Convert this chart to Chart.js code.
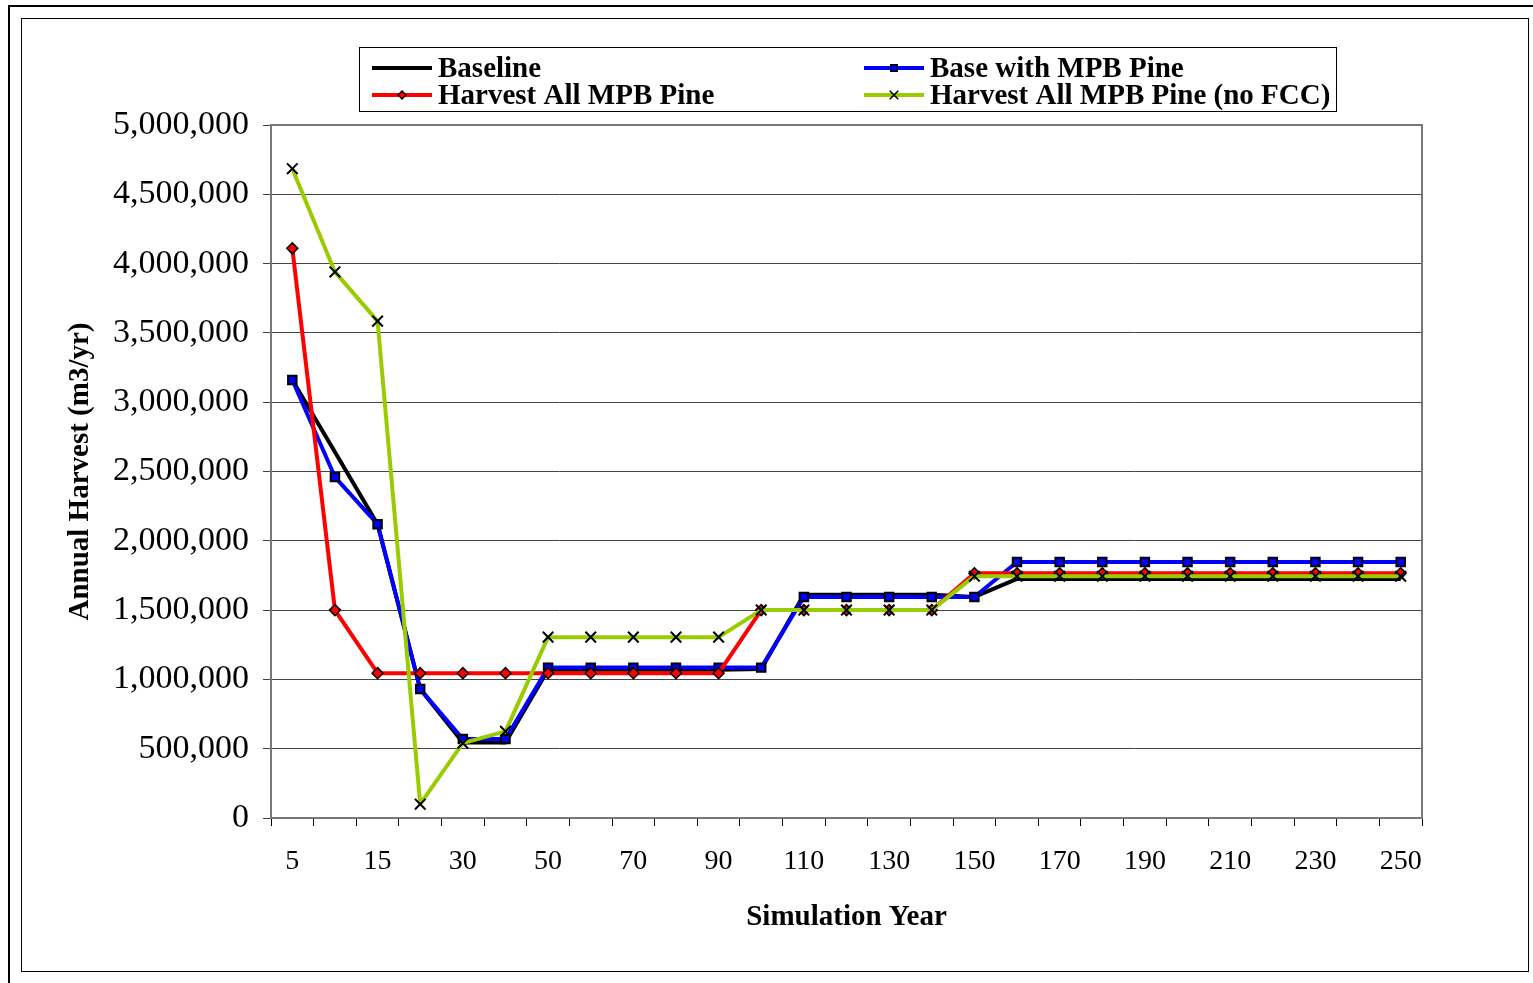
<!DOCTYPE html>
<html>
<head>
<meta charset="utf-8">
<title>Annual Harvest by Simulation Year</title>
<script src="https://cdn.jsdelivr.net/npm/chart.js@4.4.1/dist/chart.umd.min.js"></script>
<style>
    html, body { margin: 0; padding: 0; background: #fff; }
    #wrap { position: relative; width: 1533px; height: 983px; }
</style>
</head>
<body>
<div id="wrap"><canvas id="harvestChart"></canvas></div>
<script>
// Simulation years (x categories)
const years = ['5', '10', '15', '20', '30', '40', '50', '60', '70', '80', '90', '100', '110', '120',
    '130', '140', '150', '160', '170', '180', '190', '200', '210', '220', '230', '240', '250'];

// Annual harvest (m3/yr)
const baseline = [3160000, 2640000, 2120000, 930000, 545000, 545000, 1070000, 1070000, 1070000, 1070000,
    1070000, 1075000, 1610000, 1610000, 1610000, 1610000, 1595000, 1725000, 1725000, 1725000,
    1725000, 1725000, 1725000, 1725000, 1725000, 1725000, 1725000];
const baseWithMpb = [3160000, 2460000, 2120000, 930000, 570000, 570000, 1085000, 1085000, 1085000, 1085000,
    1085000, 1085000, 1595000, 1595000, 1595000, 1595000, 1595000, 1847000, 1847000, 1847000,
    1847000, 1847000, 1847000, 1847000, 1847000, 1847000, 1847000];
const harvestAll = [4110000, 1500000, 1045000, 1045000, 1045000, 1045000, 1045000, 1045000, 1045000, 1045000,
    1045000, 1500000, 1500000, 1500000, 1500000, 1500000, 1765000, 1765000, 1765000, 1765000,
    1765000, 1765000, 1765000, 1765000, 1765000, 1765000, 1765000];
const harvestAllNoFcc = [4685000, 3940000, 3585000, 100000, 540000, 625000, 1305000, 1305000, 1305000, 1305000,
    1305000, 1500000, 1500000, 1500000, 1500000, 1500000, 1745000, 1745000, 1745000, 1745000,
    1745000, 1745000, 1745000, 1745000, 1745000, 1745000, 1745000];

// Y axis ticks
const yMin = 0;
const yMax = 5000000;
const yStep = 500000;

const seriesNames = ['Baseline', 'Base with MPB Pine', 'Harvest All MPB Pine', 'Harvest All MPB Pine (no FCC)'];

const serif = "'Liberation Serif', 'Times New Roman', serif";

// Page frames + plot border
const framePlugin = {
    id: 'frames',
    beforeDraw(chart) {
        const ctx = chart.ctx;
        ctx.save();
        ctx.fillStyle = '#fff';
        ctx.fillRect(0, 0, chart.width, chart.height);
        ctx.strokeStyle = '#000';
        ctx.lineWidth = 2;
        ctx.strokeRect(9, 6, chart.width + 10, chart.height + 10);
        ctx.lineWidth = 1;
        ctx.strokeRect(21.5, 18.5, 1507, 953);
        ctx.restore();
    },
    beforeDatasetsDraw(chart) {
        const a = chart.chartArea;
        const ctx = chart.ctx;
        ctx.save();
        ctx.strokeStyle = '#777';
        ctx.lineWidth = 2;
        ctx.strokeRect(a.left, a.top, a.right - a.left, a.bottom - a.top);
        ctx.restore();
    }
};

// Two column legend box at the top
const legendPlugin = {
    id: 'boxLegend',
    afterDraw(chart) {
        const ctx = chart.ctx;
        const box = { x: 359.5, y: 47.5, w: 977, h: 64 };
        const cols = [372, 864];
        const rows = [68, 95];
        ctx.save();
        ctx.fillStyle = '#fff';
        ctx.fillRect(box.x, box.y, box.w, box.h);
        ctx.strokeStyle = '#000';
        ctx.lineWidth = 1;
        ctx.strokeRect(box.x, box.y, box.w, box.h);
        chart.data.datasets.forEach((ds, i) => {
            const x = cols[i % 2];
            const y = rows[Math.floor(i / 2)];
            ctx.strokeStyle = ds.borderColor;
            ctx.lineWidth = 4;
            ctx.beginPath();
            ctx.moveTo(x, y);
            ctx.lineTo(x + 60, y);
            ctx.stroke();
            if (ds.pointStyle && ds.pointRadius > 0) {
                ctx.fillStyle = ds.pointBackgroundColor;
                ctx.strokeStyle = ds.pointBorderColor;
                ctx.lineWidth = 1.5;
                Chart.helpers.drawPoint(ctx, {
                    pointStyle: ds.pointStyle,
                    radius: ds.pointRadius - 1.5,
                    rotation: 0,
                    borderWidth: 1.5
                }, x + 30, y);
            }
            ctx.fillStyle = '#000';
            ctx.font = "bold 29px " + serif;
            ctx.textBaseline = 'middle';
            ctx.textAlign = 'left';
            ctx.fillText(ds.label, x + 66, y + 2);
        });
        ctx.restore();
    }
};

const ctx = document.getElementById('harvestChart').getContext('2d');

new Chart(ctx, {
    type: 'line',
    data: {
        labels: years,
        datasets: [
            {
                label: seriesNames[0],
                data: baseline,
                borderColor: '#000000',
                borderWidth: 4,
                pointRadius: 0,
                pointStyle: false,
                order: 3
            },
            {
                label: seriesNames[1],
                data: baseWithMpb,
                borderColor: '#0000ff',
                borderWidth: 4,
                pointStyle: 'rect',
                pointRadius: 6,
                pointBackgroundColor: '#0000ff',
                pointBorderColor: '#000000',
                pointBorderWidth: 2,
                order: 2
            },
            {
                label: seriesNames[2],
                data: harvestAll,
                borderColor: '#ff0000',
                borderWidth: 4,
                pointStyle: 'rectRot',
                pointRadius: 5.5,
                pointBackgroundColor: '#ff0000',
                pointBorderColor: '#000000',
                pointBorderWidth: 1.5,
                order: 1
            },
            {
                label: seriesNames[3],
                data: harvestAllNoFcc,
                borderColor: '#99cc00',
                borderWidth: 4,
                pointStyle: 'crossRot',
                pointRadius: 7.5,
                pointBackgroundColor: '#000000',
                pointBorderColor: '#000000',
                pointBorderWidth: 2,
                order: 0
            }
        ]
    },
    options: {
        responsive: true,
        maintainAspectRatio: false,
        animation: false,
        layout: {
            padding: { top: 125, right: 111, left: 63, bottom: 48 }
        },
        plugins: {
            legend: { display: false },
            tooltip: { enabled: false }
        },
        elements: {
            line: { tension: 0, borderJoinStyle: 'round' }
        },
        scales: {
            x: {
                type: 'category',
                offset: true,
                afterFit: (scale) => { scale.height = 983 - 818 - 48; },
                grid: {
                    offset: true,
                    drawOnChartArea: false,
                    drawTicks: true,
                    tickLength: 8,
                    color: '#000',
                    lineWidth: 1
                },
                border: { display: true, color: '#555', width: 1 },
                ticks: {
                    autoSkip: false,
                    maxRotation: 0,
                    padding: 19,
                    color: '#000',
                    font: { family: serif, size: 28 },
                    callback: function(value, index) {
                        return index % 2 === 0 ? this.getLabelForValue(value) : '';
                    }
                },
                title: {
                    display: true,
                    text: 'Simulation Year',
                    color: '#000',
                    font: { family: serif, size: 29, weight: 'bold' },
                    padding: { top: 0, bottom: 0 }
                }
            },
            y: {
                min: yMin,
                max: yMax,
                afterFit: (scale) => { scale.width = 271 - 63; },
                grid: {
                    color: '#444',
                    lineWidth: 1,
                    drawTicks: true,
                    tickLength: 8
                },
                border: { display: true, color: '#666', width: 2 },
                ticks: {
                    stepSize: yStep,
                    padding: 14,
                    color: '#000',
                    font: { family: serif, size: 34 },
                    callback: (value) => value.toLocaleString('en-US')
                },
                title: {
                    display: true,
                    text: 'Annual Harvest (m3/yr)',
                    color: '#000',
                    font: { family: serif, size: 29, weight: 'bold' },
                    padding: { top: 0, bottom: 0 }
                }
            }
        }
    },
    plugins: [framePlugin, legendPlugin]
});
</script>
</body>
</html>
